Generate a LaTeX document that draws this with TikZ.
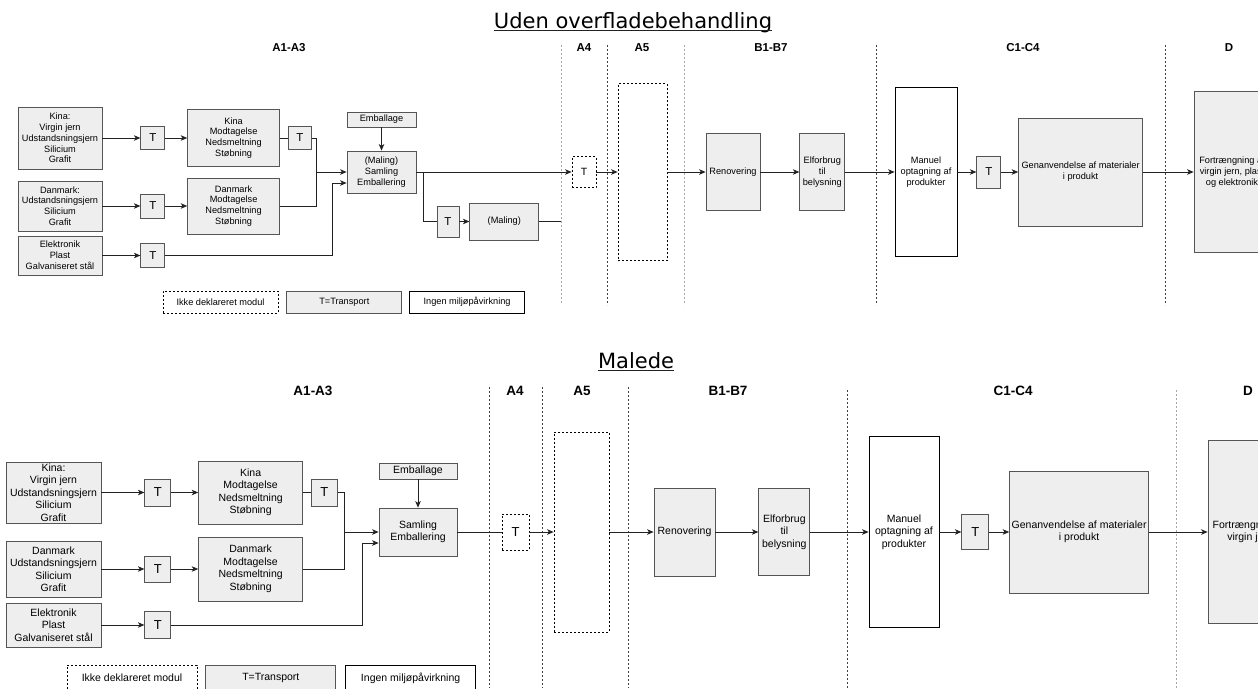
\documentclass[tikz,border=0pt]{standalone}
\usepackage{fontspec}
\setmainfont{Liberation Sans}
\newfontfamily\titlefont{DejaVu Sans}
\usetikzlibrary{arrows.meta}
\usetikzlibrary{positioning}
\definecolor{boxfill}{HTML}{EEEEEE}
\definecolor{boxline}{HTML}{555555}
\definecolor{edgeline}{HTML}{222222}
\tikzset{> = {Stealth[length = 6.5pt, width = 5.5pt, inset = 1.8pt]},
  proc/.style = {draw = boxline, fill = boxfill, inner sep = 0pt, align = center},
  plain/.style = {draw = black, fill = white, inner sep = 0pt, align = center},
  undecl/.style = {draw = black, dash pattern = on 2pt off 2pt, fill = white, inner sep = 0pt, align = center},
  wh/.style 2 args = {minimum width = #1pt, minimum height = #2pt},
  txt1/.style = {font = \fontsize{9.2}{10.8}\selectfont},
  txt2/.style = {font = \fontsize{10.5}{12.5}\selectfont},
  tee1/.style = {font = \fontsize{11.5}{13}\selectfont},
  tee2/.style = {font = \fontsize{13}{15}\selectfont},
  phase1/.style = {font = \bfseries\fontsize{11.5}{13}\selectfont},
  phase2/.style = {font = \bfseries\fontsize{13.5}{15}\selectfont},
  title/.style = {font = \titlefont\fontsize{21}{25}\selectfont, inner sep = 0pt, anchor = base},
  sep/.style = {draw = black!75, dash pattern = on 2pt off 2pt, line width = 0.6pt},
  sepgray/.style = {sep, draw = black!35}}

\begin{document}
\begin{tikzpicture}[x = 1pt, y = -1pt, line width = 0.8pt, draw = edgeline]
  \useasboundingbox (0,0) rectangle (1258,688);
  \clip (0,0) rectangle (1258,688);

  % Uden overfladebehandling
  \node (title1) [title] at (633,28) {Uden overfladebehandling};
  \draw [line width = 1.2pt] ([yshift = -2.5pt] title1.base west) -- ([yshift = -2.5pt] title1.base east);
  \node (a13u) [phase1] at (289,48) {A1-A3};
  \node (a4u) [phase1] at (584,48) {A4};
  \node (a5u) [phase1] at (642,48) {A5};
  \node (bu) [phase1] at (771,48) {B1-B7};
  \node (cu) [phase1] at (1023,48) {C1-C4};
  \node (du) [phase1] at (1229,48) {D};
  \draw [sepgray] (561,45) -- (561,305);
  \draw [sep] (607,45) -- (607,305);
  \draw [sepgray] (684,45) -- (684,305);
  \draw [sep] (876,45) -- (876,305);
  \draw [sep] (1165,45) -- (1165,305);
  % nodes
  \node (kina1) [proc, txt1, wh={84}{62}] at (60,138) {Kina:\\Virgin jern\\Udstandsningsjern\\Silicium\\Grafit};
  \node (t11) [proc, tee1, wh={24}{23}, right = 38pt of kina1] {T};
  \node (kmod1) [proc, txt1, wh={92}{57}, right = 22pt of t11] {Kina\\Modtagelse\\Nedsmeltning\\Støbning};
  \node (t14) [proc, tee1, wh={23}{23}, right = 8pt of kmod1] {T};
  \node (dk1) [proc, txt1, wh={84}{50}] at (60,206) {Danmark:\\Udstandsningsjern\\Silicium\\Grafit};
  \node (t12) [proc, tee1, wh={24}{24}, right = 38pt of dk1] {T};
  \node (dmod1) [proc, txt1, wh={92}{56}, right = 22pt of t12] {Danmark\\Modtagelse\\Nedsmeltning\\Støbning};
  \node (el1) [proc, txt1, wh={84}{39}] at (60,255.5) {Elektronik\\Plast\\Galvaniseret stål};
  \node (t13) [proc, tee1, wh={24}{24}, right = 38pt of el1] {T};
  \node (emb1) [proc, txt1, wh={69}{15}] at (381.5,119.5) {Emballage};
  \node (sam1) [proc, txt1, wh={69}{42}] at (381.5,172) {(Maling)\\Samling\\Emballering};
  \node (t15) [proc, tee1, wh={22}{31}] at (448,221.5) {T};
  \node (mal1) [proc, txt1, wh={69}{37}, right = 10pt of t15] {(Maling)};
  \node (a4t1) [undecl, font = \fontsize{10.5}{12}\selectfont, wh={24}{31}] at (584,172) {T};
  \node (a5b1) [undecl, wh={49}{177}] at (642.5,172) {};
  \node (ren1) [proc, txt1, wh={54}{77}] at (733,172) {Renovering};
  \node (elf1) [proc, txt1, wh={45}{77}, right = 39pt of ren1] {Elforbrug\\til\\belysning};
  \node (man1) [plain, txt1, wh={62}{169}] at (926,172) {Manuel\\optagning af\\produkter};
  \node (tc1) [proc, tee1, wh={24}{32}, right = 19pt of man1] {T};
  \node (gen1) [proc, txt1, wh={124}{108}, right = 17pt of tc1] {Genanvendelse af materialer\\i produkt};
  \node (d1) [proc, txt1, wh={76}{161}] at (1232,172) {Fortrængning af\\virgin jern, plast\\og elektronik};
  \node (lg11) [undecl, txt1, wh={115}{22}] at (220.5,302) {Ikke deklareret modul};
  \node (lg12) [proc, txt1, wh={115}{22}, right = 8pt of lg11] {T=Transport};
  \node (lg13) [plain, txt1, wh={115}{22}, right = 7pt of lg12] {Ingen miljøpåvirkning};
  \coordinate (j11) at (316,172);
  \coordinate (j12) at (332,183);
  \coordinate (b11) at (423,172);
  \coordinate (e11) at (561,221.5);
  % edges
  \draw [->] (kina1) -- (t11);
  \draw [->] (t11) -- (kmod1);
  \draw (kmod1) -- (t14);
  \draw (t14) -| (j11);
  \draw [->] (dk1) -- (t12);
  \draw [->] (t12) -- (dmod1);
  \draw (dmod1) -| (j11);
  \draw [->] (j11) -- (sam1);
  \draw [->] (el1) -- (t13);
  \draw [->] (t13) -| (j12) -- (j12 -| sam1.west);
  \draw [->] (emb1) -- (sam1);
  \draw [->] (sam1) -- (a4t1);
  \draw (b11) |- (t15);
  \draw [->] (t15) -- (mal1);
  \draw (mal1) -- (e11);
  \draw [->] (a4t1) -- (a5b1);
  \draw [->] (a5b1) -- (ren1);
  \draw [->] (ren1) -- (elf1);
  \draw [->] (elf1) -- (man1);
  \draw [->] (man1) -- (tc1);
  \draw [->] (tc1) -- (gen1);
  \draw [->] (gen1) -- (d1);

  % Malede
  \node (title2) [title] at (636,368) {Malede};
  \draw [line width = 1.2pt] ([yshift = -2.5pt] title2.base west) -- ([yshift = -2.5pt] title2.base east);
  \node (a13m) [phase2] at (313,391) {A1-A3};
  \node (a4m) [phase2] at (515,391) {A4};
  \node (a5m) [phase2] at (582,391) {A5};
  \node (bm) [phase2] at (728,391) {B1-B7};
  \node (cm) [phase2] at (1013,391) {C1-C4};
  \node (dm) [phase2] at (1248,391) {D};
  \draw [sep] (489,387) -- (489,688);
  \draw [sep] (542,387) -- (542,688);
  \draw [sep] (628,387) -- (628,688);
  \draw [sep] (847,390) -- (847,688);
  \draw [sepgray] (1176,390) -- (1176,688);
  % nodes
  \node (kina2) [proc, txt2, wh={95}{61}] at (53.5,492.5) {Kina:\\Virgin jern\\Udstandsningsjern\\Silicium\\Grafit};
  \node (t21) [proc, tee2, wh={26}{27}, right = 43pt of kina2] {T};
  \node (kmod2) [proc, txt2, wh={104}{63}, right = 27pt of t21] {Kina\\Modtagelse\\Nedsmeltning\\Støbning};
  \node (t24) [proc, tee2, wh={26}{27}, right = 8pt of kmod2] {T};
  \node (dk2) [proc, txt2, wh={95}{56}] at (53.5,569) {Danmark\\Udstandsningsjern\\Silicium\\Grafit};
  \node (t22) [proc, tee2, wh={26}{26}, right = 43pt of dk2] {T};
  \node (dmod2) [proc, txt2, wh={104}{64}, right = 27pt of t22] {Danmark\\Modtagelse\\Nedsmeltning\\Støbning};
  \node (el2) [proc, txt2, wh={95}{44}] at (53.5,625) {Elektronik\\Plast\\Galvaniseret stål};
  \node (t23) [proc, tee2, wh={26}{27}, right = 43pt of el2] {T};
  \node (emb2) [proc, txt2, wh={78}{16}] at (418,471) {Emballage};
  \node (sam2) [proc, txt2, wh={78}{48}] at (418,532) {Samling\\Emballering};
  \node (a4t2) [undecl, tee2, wh={27}{36}] at (515.5,532) {T};
  \node (a5b2) [undecl, wh={55}{200}] at (581.5,532) {};
  \node (ren2) [proc, txt2, wh={61}{88}] at (684.5,532) {Renovering};
  \node (elf2) [proc, txt2, wh={51}{87}, right = 43pt of ren2] {Elforbrug\\til\\belysning};
  \node (man2) [plain, txt2, wh={70}{191}] at (904,532) {Manuel\\optagning af\\produkter};
  \node (tc2) [proc, tee2, wh={27}{35}, right = 22pt of man2] {T};
  \node (gen2) [proc, txt2, wh={139}{122}, right = 20pt of tc2] {Genanvendelse af materialer\\i produkt};
  \node (d2) [proc, txt2, wh={84}{183}] at (1250,532) {Fortrængning af\\virgin jern};
  \node (lg21) [undecl, txt2, wh={130}{26}] at (132,678) {Ikke deklareret modul};
  \node (lg22) [proc, txt2, wh={130}{26}, right = 8pt of lg21] {T=Transport};
  \node (lg23) [plain, txt2, wh={130}{26}, right = 9pt of lg22] {Ingen miljøpåvirkning};
  \coordinate (j21) at (344,532);
  \coordinate (j22) at (362,543);
  % edges
  \draw [->] (kina2) -- (t21);
  \draw [->] (t21) -- (kmod2);
  \draw (kmod2) -- (t24);
  \draw (t24) -| (j21);
  \draw [->] (dk2) -- (t22);
  \draw [->] (t22) -- (dmod2);
  \draw (dmod2) -| (j21);
  \draw [->] (j21) -- (sam2);
  \draw [->] (el2) -- (t23);
  \draw [->] (t23) -| (j22) -- (j22 -| sam2.west);
  \draw [->] (emb2) -- (sam2);
  \draw (sam2) -- (a4t2);
  \draw [->] (a4t2) -- (a5b2);
  \draw [->] (a5b2) -- (ren2);
  \draw [->] (ren2) -- (elf2);
  \draw [->] (elf2) -- (man2);
  \draw [->] (man2) -- (tc2);
  \draw [->] (tc2) -- (gen2);
  \draw [->] (gen2) -- (d2);
\end{tikzpicture}
\end{document}
